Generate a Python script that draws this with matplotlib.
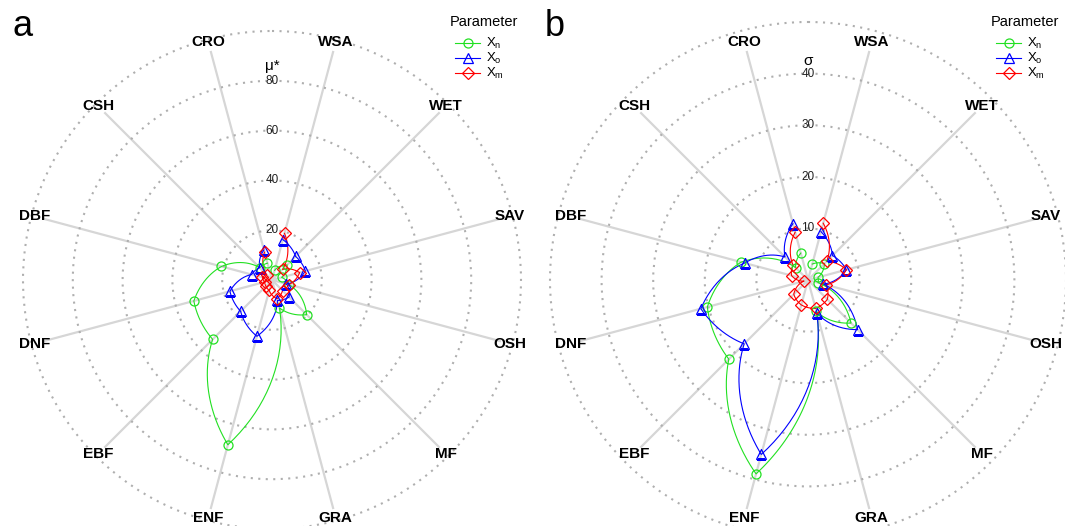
import numpy as np
import matplotlib.pyplot as plt
from matplotlib.lines import Line2D

plt.rcParams['font.family'] = ['Liberation Sans', 'DejaVu Sans']

# land cover types, drawn counter-clockwise starting just left of north
CATEGORIES = ['CRO', 'CSH', 'DBF', 'DNF', 'EBF', 'ENF',
              'GRA', 'MF', 'OSH', 'SAV', 'WET', 'WSA']

# panel a: mu* per land cover type
MU_XN = [7, 7, 21, 32.5, 33.7, 68.5, 11.6, 19.7, 7, 4, 8.6, 4]
MU_XO = [12.5, 7, 8.5, 17.5, 17.8, 23.4, 8.5, 9.7, 6, 13.9, 13.4, 16.8]
MU_XM = [11.6, 3, 4, 3, 3.5, 4.3, 7.8, 6, 7, 11.5, 6, 19.4]

# panel b: sigma per land cover type
SIGMA_XN = [5.4, 3.4, 13.4, 20.2, 21.7, 38.9, 6.3, 11.8, 2, 2, 4.5, 3.2]
SIGMA_XO = [11.3, 6.3, 12.7, 21.5, 17.5, 35, 6.6, 13.6, 3, 7.7, 6.7, 9.7]
SIGMA_XM = [9.6, 4.1, 3.3, 0.8, 3.9, 5, 5.7, 5.3, 3.6, 7.7, 5.1, 11.4]

MU_TICKS = [20, 40, 60, 80, 100]
SIGMA_TICKS = [10, 20, 30, 40, 50]

LABELS = [r'X$_\mathregular{n}$', r'X$_\mathregular{o}$', r'X$_\mathregular{m}$']
COLORS = ['#22E022', '#0000FF', '#FF0000']
MARKERS = ['o', '^', 'D']
MSIZES = [6.5, 7.5, 6]

THETA = np.radians(345 - 30 * np.arange(len(CATEGORIES)))

W, H = 1065, 526


def densify(theta, r, n=40):
    # straight segments in (theta, r) space -> spirals on screen
    tt, rr = [], []
    for i in range(len(theta) - 1):
        tt.append(np.linspace(theta[i], theta[i + 1], n))
        rr.append(np.linspace(r[i], r[i + 1], n))
    return np.concatenate(tt), np.concatenate(rr)


def draw_panel(cx, ax_px, px_per_unit, series, rticks, rtitle, title_px):
    ax = fig.add_axes([(cx - ax_px) / W, (H - 280 - ax_px) / H,
                       2 * ax_px / W, 2 * ax_px / H], projection='polar')
    per_px = 1.0 / px_per_unit
    ax.set_theta_zero_location('N')
    ax.set_theta_direction(-1)
    ax.spines['polar'].set_visible(False)
    ax.set_xticks([])
    ax.set_yticks(rticks)
    ax.set_yticklabels([])
    ax.set_ylim(0, ax_px * per_px)
    ax.tick_params(length=0)
    ax.yaxis.grid(True, color='#AFAFAF', linestyle=(0, (1, 2.6)), linewidth=1.5)
    ax.xaxis.grid(False)

    for th, cat in zip(THETA, CATEGORIES):
        ax.plot([th, th], [0, 236 * per_px], color='#D6D6D6', lw=1.6, zorder=1)
        ax.text(th, 246 * per_px, cat, ha='center', va='center',
                fontsize=11, fontweight='bold', zorder=5)

    for v in rticks[:-1]:
        ax.text(0, v, str(v), ha='center', va='center', fontsize=8.5,
                color='#222222', zorder=5)
    ax.text(0, title_px * per_px, rtitle, ha='center', va='center',
            fontsize=11, zorder=5)

    for vals, col, mk, ms in zip(series, COLORS, MARKERS, MSIZES):
        tt, rr = densify(THETA, vals)
        ax.plot(tt, rr, color=col, lw=0.8, zorder=3)
        ax.plot(THETA, vals, linestyle='none', marker=mk, ms=ms,
                mfc='none', mec=col, mew=0.9, zorder=4)
    return ax


def draw_legend(x0):
    fig.text(x0 / W, 1 - 22 / H, 'Parameter', fontsize=10.5,
             ha='left', va='center')
    for i, (lab, col, mk, ms) in enumerate(zip(LABELS, COLORS, MARKERS, MSIZES)):
        y = 1 - (43 + 15 * i) / H
        fig.add_artist(Line2D([(x0 + 5) / W, (x0 + 30) / W], [y, y],
                              color=col, lw=0.8, transform=fig.transFigure))
        fig.add_artist(Line2D([(x0 + 17.5) / W], [y], linestyle='none',
                              marker=mk, ms=ms, mfc='none', mec=col, mew=0.9,
                              transform=fig.transFigure))
        fig.text((x0 + 36) / W, y, lab, fontsize=9.5, ha='left', va='center')


fig = plt.figure(figsize=(10.65, 5.26), dpi=100)

draw_panel(272, 253, 2.49, [MU_XN, MU_XO, MU_XM], MU_TICKS, 'μ*', 214)
draw_panel(808, 262, 5.16, [SIGMA_XN, SIGMA_XO, SIGMA_XM], SIGMA_TICKS, 'σ', 219)

draw_legend(450)
draw_legend(991)

fig.text(12 / W, 1 - 26 / H, 'a', fontsize=26, va='center', ha='left')
fig.text(545 / W, 1 - 26 / H, 'b', fontsize=26, va='center', ha='left')

fig.savefig('out.png', dpi=100)
